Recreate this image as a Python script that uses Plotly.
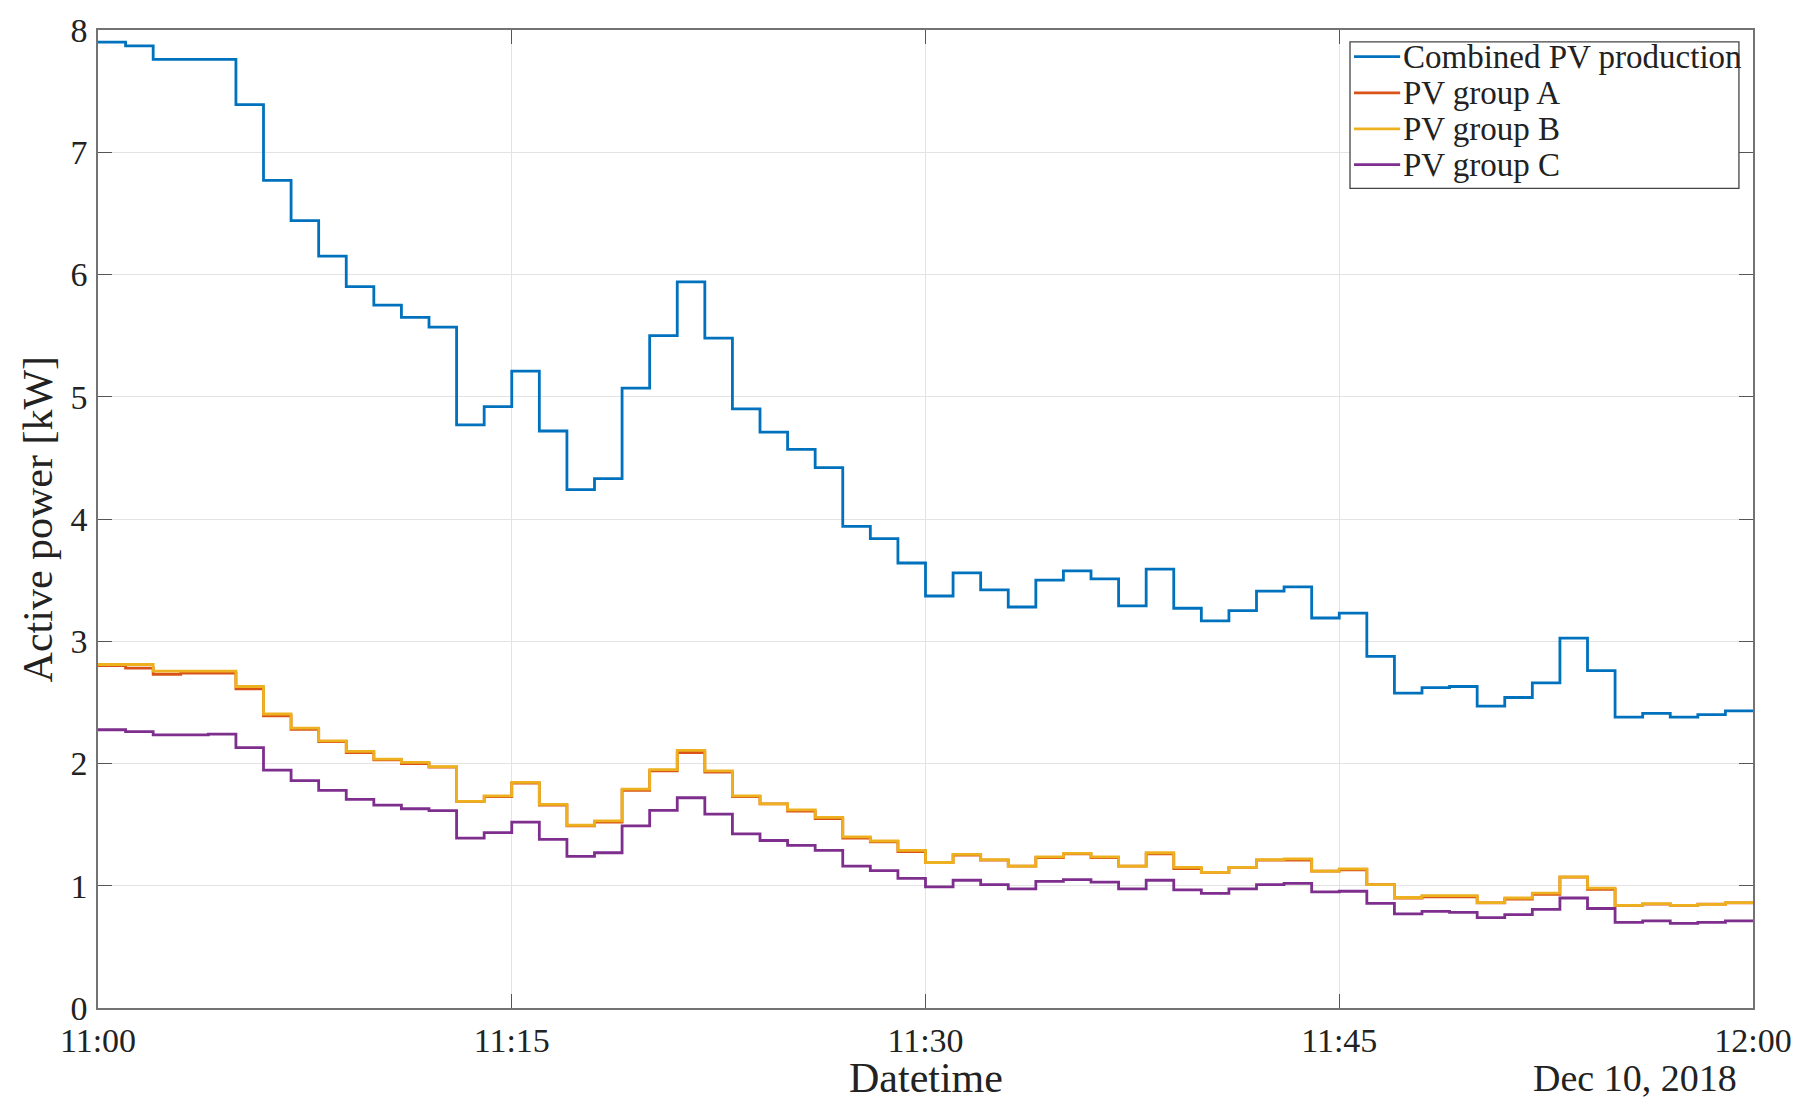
import pandas as pd
import plotly.graph_objects as go

# One-minute samples from 11:00 to 11:59 (each value holds until the next minute)
start_time = "2018-12-10 11:00"
end_time = "2018-12-10 12:00"

combined_pv = [
    7.90, 7.87, 7.76, 7.76, 7.76, 7.39, 6.77, 6.44, 6.15, 5.90,
    5.75, 5.65, 5.57, 4.77, 4.92, 5.21, 4.72, 4.24, 4.33, 5.07,
    5.50, 5.94, 5.48, 4.90, 4.71, 4.57, 4.42, 3.94, 3.84, 3.64,
    3.37, 3.56, 3.42, 3.28, 3.50, 3.575, 3.51, 3.29, 3.59, 3.27,
    3.166, 3.25, 3.41, 3.445, 3.19, 3.23, 2.876, 2.575, 2.62, 2.63,
    2.47, 2.54, 2.66, 3.025, 2.76, 2.38, 2.41, 2.38, 2.40, 2.43,
]

pv_group_a = [
    2.80, 2.78, 2.73, 2.74, 2.74, 2.61, 2.39, 2.28, 2.18, 2.09,
    2.03, 2.00, 1.97, 1.69, 1.73, 1.84, 1.66, 1.49, 1.52, 1.78,
    1.94, 2.09, 1.93, 1.73, 1.67, 1.61, 1.55, 1.39, 1.36, 1.28,
    1.19, 1.25, 1.21, 1.16, 1.23, 1.26, 1.23, 1.16, 1.26, 1.14,
    1.11, 1.15, 1.21, 1.21, 1.12, 1.13, 1.01, 0.90, 0.91, 0.91,
    0.86, 0.89, 0.93, 1.07, 0.97, 0.84, 0.85, 0.84, 0.85, 0.86,
]

pv_group_b = [
    2.81, 2.81, 2.755, 2.755, 2.755, 2.63, 2.405, 2.29, 2.185, 2.10,
    2.036, 2.01, 1.975, 1.69, 1.735, 1.845, 1.665, 1.495, 1.53, 1.79,
    1.95, 2.107, 1.94, 1.735, 1.67, 1.62, 1.56, 1.40, 1.366, 1.29,
    1.19, 1.256, 1.214, 1.16, 1.236, 1.265, 1.236, 1.16, 1.27, 1.15,
    1.11, 1.15, 1.214, 1.22, 1.12, 1.138, 1.01, 0.904, 0.92, 0.92,
    0.862, 0.90, 0.94, 1.073, 0.98, 0.84, 0.853, 0.84, 0.848, 0.862,
]

pv_group_c = [
    2.276, 2.26, 2.234, 2.234, 2.24, 2.13, 1.946, 1.86, 1.78, 1.707,
    1.66, 1.63, 1.614, 1.39, 1.434, 1.52, 1.38, 1.24, 1.27, 1.49,
    1.617, 1.72, 1.586, 1.425, 1.37, 1.33, 1.29, 1.16, 1.124, 1.06,
    0.99, 1.045, 1.01, 0.975, 1.036, 1.05, 1.03, 0.975, 1.045, 0.966,
    0.938, 0.975, 1.01, 1.02, 0.95, 0.955, 0.856, 0.77, 0.79, 0.783,
    0.74, 0.763, 0.806, 0.90, 0.814, 0.70, 0.713, 0.693, 0.70, 0.713,
]

series_names = ["Combined PV production", "PV group A", "PV group B", "PV group C"]
series_colors = ["#0072BD", "#D95319", "#EDB120", "#7E2F8E"]

tick_labels = ["11:00", "11:15", "11:30", "11:45", "12:00"]
y_ticks = [0, 1, 2, 3, 4, 5, 6, 7, 8]

times = pd.date_range(start_time, end_time, freq="1min")
tick_times = pd.date_range(start_time, end_time, freq="15min")

TEXT = "#222222"
FONT = "Liberation Serif, Times New Roman, serif"
LINE_W = 2.8

fig = go.Figure()
for name, color, values in zip(
    series_names, series_colors, [combined_pv, pv_group_a, pv_group_b, pv_group_c]
):
    # the last level is held until the end of the hour
    fig.add_trace(
        go.Scatter(
            x=times,
            y=values + values[-1:],
            mode="lines",
            line=dict(color=color, width=LINE_W, shape="hv"),
            name=name,
            showlegend=False,
        )
    )

axis_common = dict(
    showline=True,
    linecolor="#737373",
    linewidth=1.5,
    mirror="ticks",
    ticks="inside",
    ticklen=14,
    tickcolor="#555555",
    tickwidth=1.2,
    showgrid=True,
    gridcolor="#e3e3e3",
    gridwidth=1,
    zeroline=False,
    tickfont=dict(family=FONT, size=34, color=TEXT),
)

fig.update_xaxes(
    type="date",
    range=[times[0], times[-1]],
    tickvals=tick_times,
    ticktext=tick_labels,
    ticklabelstandoff=1,
    **axis_common,
)
fig.update_yaxes(
    range=[0, 8],
    tickvals=y_ticks,
    ticklabelstandoff=2,
    **axis_common,
)

# Boxed legend in the upper-right corner (compact MATLAB-style rows)
legend_box = dict(x0=0.7565, x1=0.9915, y0=0.8381, y1=0.9879)
legend_rows = [0.9727, 0.9357, 0.8988, 0.8623]
key_x0, key_x1, label_x = 0.7589, 0.7868, 0.7872

shapes = [
    dict(
        type="rect", xref="paper", yref="paper",
        line=dict(color="#444444", width=1.3),
        fillcolor="white", layer="above",
        **legend_box,
    )
]
annotations = []
for name, color, row_y in zip(series_names, series_colors, legend_rows):
    shapes.append(
        dict(
            type="line", xref="paper", yref="paper",
            x0=key_x0, x1=key_x1, y0=row_y, y1=row_y,
            line=dict(color=color, width=LINE_W), layer="above",
        )
    )
    annotations.append(
        dict(
            text=name, xref="paper", yref="paper",
            x=label_x, y=row_y, xanchor="left", yanchor="middle",
            showarrow=False,
            font=dict(family=FONT, size=33, color=TEXT),
        )
    )

annotations += [
    dict(
        text="Datetime",
        xref="paper", yref="paper",
        x=0.5, y=-0.0719,
        xanchor="center", yanchor="middle",
        showarrow=False,
        font=dict(family=FONT, size=42, color=TEXT),
    ),
    dict(
        text="Dec 10, 2018",
        xref="paper", yref="paper",
        x=0.9915, y=-0.0719,
        xanchor="right", yanchor="middle",
        showarrow=False,
        font=dict(family=FONT, size=38, color=TEXT),
    ),
    dict(
        text="Active power [kW]",
        xref="paper", yref="paper",
        x=-0.036, y=0.5,
        xanchor="center", yanchor="middle",
        textangle=-90,
        showarrow=False,
        font=dict(family=FONT, size=42, color=TEXT),
    ),
]

fig.update_layout(
    width=1806,
    height=1103,
    margin=dict(l=98, r=53, t=20, b=95),
    paper_bgcolor="white",
    plot_bgcolor="white",
    font=dict(family=FONT, color=TEXT),
    showlegend=False,
    shapes=shapes,
    annotations=annotations,
)

fig.write_html("out.html")
